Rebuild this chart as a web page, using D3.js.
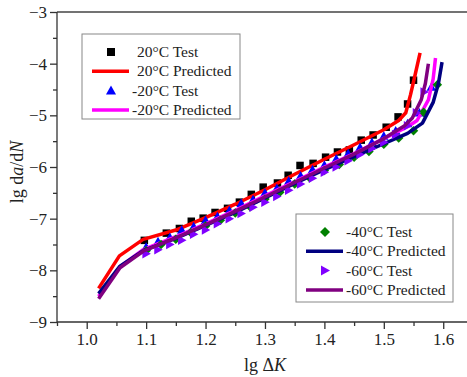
<!DOCTYPE html>
<html lang="en">
<head>
<meta charset="UTF-8">
<title>lg da/dN vs lg ΔK</title>
<script src="https://d3js.org/d3.v7.min.js"></script>
<style>
    body { margin: 0; padding: 0; background: #fff; }
    svg text { font-family: "Liberation Serif", "DejaVu Serif", serif; fill: #222; }
    .axis path, .axis line { stroke: #333; stroke-width: 1.3px; }
    .axis text { font-size: 17px; }
</style>
</head>
<body>
<svg id="chart"></svg>
<script>
// ---- data ----
const xTicks = [1.0, 1.1, 1.2, 1.3, 1.4, 1.5, 1.6];
const yTicks = [-9, -8, -7, -6, -5, -4, -3];

// 20°C
const test20x = [1.097, 1.134, 1.156, 1.176, 1.196, 1.216, 1.237, 1.257, 1.277, 1.297, 1.321, 1.339, 1.359, 1.381, 1.402, 1.422, 1.442, 1.462, 1.482, 1.504, 1.524, 1.540, 1.550];
const test20y = [-7.42, -7.28, -7.19, -7.05, -6.99, -6.88, -6.80, -6.68, -6.53, -6.39, -6.31, -6.16, -5.97, -5.93, -5.81, -5.71, -5.67, -5.48, -5.38, -5.23, -5.03, -4.78, -4.32];
const pred20x = [1.02, 1.055, 1.095, 1.15, 1.2, 1.25, 1.3, 1.35, 1.4, 1.45, 1.5, 1.525, 1.537, 1.545, 1.553, 1.561];
const pred20y = [-8.35, -7.72, -7.40, -7.22, -6.98, -6.72, -6.44, -6.14, -5.85, -5.57, -5.28, -5.10, -4.95, -4.60, -4.20, -3.79];

// -20°C
const testM20x = [1.10, 1.12, 1.14, 1.16, 1.18, 1.20, 1.22, 1.24, 1.26, 1.28, 1.30, 1.32, 1.34, 1.36, 1.38, 1.40, 1.42, 1.44, 1.46, 1.48, 1.50, 1.52, 1.54, 1.56, 1.58];
const testM20y = [-7.55, -7.44, -7.36, -7.22, -7.15, -7.03, -6.96, -6.84, -6.70, -6.63, -6.50, -6.41, -6.27, -6.17, -6.05, -5.96, -5.84, -5.74, -5.62, -5.52, -5.40, -5.30, -5.16, -4.95, -4.45];
const predM20x = [1.02, 1.056, 1.095, 1.15, 1.2, 1.25, 1.3, 1.35, 1.4, 1.45, 1.5, 1.54, 1.556, 1.575, 1.583, 1.587];
const predM20y = [-8.50, -7.93, -7.60, -7.35, -7.10, -6.84, -6.56, -6.28, -6.00, -5.74, -5.45, -5.22, -5.10, -4.70, -4.30, -3.89];

// -40°C
const testM40x = [1.10, 1.125, 1.15, 1.175, 1.2, 1.225, 1.25, 1.275, 1.3, 1.325, 1.35, 1.375, 1.4, 1.425, 1.45, 1.475, 1.5, 1.525, 1.55, 1.567, 1.59];
const testM40y = [-7.62, -7.50, -7.40, -7.27, -7.14, -7.03, -6.89, -6.77, -6.62, -6.49, -6.33, -6.21, -6.07, -5.95, -5.81, -5.70, -5.56, -5.44, -5.30, -4.94, -4.41];
const predM40x = [1.02, 1.056, 1.095, 1.15, 1.2, 1.25, 1.3, 1.35, 1.4, 1.45, 1.5, 1.54, 1.565, 1.583, 1.592, 1.598];
const predM40y = [-8.45, -7.92, -7.62, -7.38, -7.13, -6.88, -6.60, -6.32, -6.05, -5.80, -5.55, -5.35, -5.15, -4.75, -4.38, -3.97];

// -60°C
const testM60x = [1.10, 1.12, 1.14, 1.16, 1.18, 1.20, 1.22, 1.24, 1.26, 1.28, 1.30, 1.32, 1.34, 1.36, 1.38, 1.40, 1.42, 1.44, 1.46, 1.48, 1.50, 1.52, 1.54, 1.555, 1.568];
const testM60y = [-7.68, -7.60, -7.50, -7.42, -7.30, -7.22, -7.10, -7.00, -6.90, -6.78, -6.68, -6.57, -6.45, -6.33, -6.22, -6.10, -6.00, -5.88, -5.76, -5.64, -5.52, -5.37, -5.20, -4.95, -4.55];
const predM60x = [1.02, 1.056, 1.095, 1.15, 1.2, 1.25, 1.3, 1.35, 1.4, 1.45, 1.5, 1.535, 1.548, 1.563, 1.57, 1.575];
const predM60y = [-8.55, -7.95, -7.63, -7.37, -7.12, -6.86, -6.58, -6.30, -6.02, -5.75, -5.45, -5.20, -5.05, -4.70, -4.38, -4.00];

const zip = (xs, ys) => xs.map((x, i) => [x, ys[i]]);

// series in legend (and drawing) order
const series = [
    { label: "20°C Test",       type: "test", shape: "square",   color: "#000000", pts: zip(test20x, test20y) },
    { label: "20°C Predicted",  type: "line", color: "#ff0000", pts: zip(pred20x, pred20y) },
    { label: "-20°C Test",      type: "test", shape: "triUp",    color: "#0000ff", pts: zip(testM20x, testM20y) },
    { label: "-20°C Predicted", type: "line", color: "#ff00ff", pts: zip(predM20x, predM20y) },
    { label: "-40°C Test",      type: "test", shape: "diamond",  color: "#008000", pts: zip(testM40x, testM40y) },
    { label: "-40°C Predicted", type: "line", color: "#000080", pts: zip(predM40x, predM40y) },
    { label: "-60°C Test",      type: "test", shape: "triRight", color: "#8000ff", pts: zip(testM60x, testM60y) },
    { label: "-60°C Predicted", type: "line", color: "#800080", pts: zip(predM60x, predM60y) }
];

// ---- layout ----
const W = 467, H = 377;
const pLeft = 57, pRight = 467, pTop = 12, pBottom = 322;

const svg = d3.select("#chart").attr("width", W).attr("height", H);

const x = d3.scaleLinear().domain([0.95, 1.64]).range([pLeft, pRight]);
const y = d3.scaleLinear().domain([-9, -3]).range([pBottom, pTop]);

// marker shapes
function markerPath(shape, s) {
    const h = s / 2;
    if (shape === "square") return `M${-h},${-h}h${s}v${s}h${-s}Z`;
    if (shape === "triUp") return `M0,${-h - 1}L${h + 1},${h}L${-h - 1},${h}Z`;
    if (shape === "triRight") return `M${h + 1},0L${-h},${h + 1}L${-h},${-h - 1}Z`;
    if (shape === "diamond") return `M0,${-h - 1}L${h + 1},0L0,${h + 1}L${-h - 1},0Z`;
    return "";
}

// top frame line
svg.append("line")
    .attr("x1", pLeft).attr("x2", pRight)
    .attr("y1", pTop).attr("y2", pTop)
    .attr("stroke", "#444").attr("stroke-width", 1.3);

// x axis (minor + major)
svg.append("g")
    .attr("class", "axis")
    .attr("transform", `translate(0,${pBottom})`)
    .call(d3.axisBottom(x).tickValues(xTicks.map(v => v - 0.05)).tickSize(4).tickFormat(""))
    .call(g => g.select(".domain").remove());
svg.append("g")
    .attr("class", "axis")
    .attr("transform", `translate(0,${pBottom})`)
    .call(d3.axisBottom(x).tickValues(xTicks).tickSize(7).tickPadding(4).tickFormat(d3.format(".1f")))
    .call(g => g.select(".domain").attr("d", `M${pLeft},0H${pRight}`));

// y axis (minor + major)
svg.append("g")
    .attr("class", "axis")
    .attr("transform", `translate(${pLeft},0)`)
    .call(d3.axisLeft(y).tickValues(yTicks.slice(0, -1).map(v => v + 0.5)).tickSize(4).tickFormat(""))
    .call(g => g.select(".domain").remove());
svg.append("g")
    .attr("class", "axis")
    .attr("transform", `translate(${pLeft},0)`)
    .call(d3.axisLeft(y).tickValues(yTicks).tickSize(7).tickPadding(3).tickFormat(d3.format("d")))
    .call(g => g.select(".domain").attr("d", `M0,${pTop}V${pBottom}`));

// axis titles
const xt = svg.append("text")
    .attr("x", 265).attr("y", 371)
    .attr("text-anchor", "middle")
    .style("font-size", "18px");
xt.append("tspan").text("lg \u0394");
xt.append("tspan").style("font-style", "italic").text("K");

const yt = svg.append("text")
    .attr("transform", "translate(23,172) rotate(-90)")
    .attr("text-anchor", "middle")
    .style("font-size", "18px");
yt.append("tspan").text("lg d");
yt.append("tspan").style("font-style", "italic").text("a");
yt.append("tspan").text("/d");
yt.append("tspan").style("font-style", "italic").text("N");

// data
const line = d3.line().x(d => x(d[0])).y(d => y(d[1]));
const plot = svg.append("g");

series.forEach(s => {
    if (s.type === "line") {
        plot.append("path")
            .datum(s.pts)
            .attr("d", line)
            .attr("fill", "none")
            .attr("stroke", s.color)
            .attr("stroke-width", 3.5)
            .attr("stroke-linejoin", "round");
    } else {
        plot.selectAll(null)
            .data(s.pts)
            .join("path")
            .attr("transform", d => `translate(${x(d[0])},${y(d[1])})`)
            .attr("d", markerPath(s.shape, 7.5))
            .attr("fill", s.color);
    }
});

// legends
function drawLegend(items, bx, by, bw, bh) {
    const g = svg.append("g");
    g.append("rect")
        .attr("x", bx).attr("y", by).attr("width", bw).attr("height", bh)
        .attr("fill", "#fff").attr("stroke", "#888").attr("stroke-width", 1);
    items.forEach((s, i) => {
        const cy = by + 18 + i * 19.3;
        if (s.type === "line") {
            g.append("line")
                .attr("x1", bx + 10).attr("x2", bx + 47)
                .attr("y1", cy).attr("y2", cy)
                .attr("stroke", s.color).attr("stroke-width", 3.5);
        } else {
            g.append("path")
                .attr("transform", `translate(${bx + 29},${cy})`)
                .attr("d", markerPath(s.shape, 8))
                .attr("fill", s.color);
        }
        g.append("text")
            .attr("x", bx + 50 + (s.label.startsWith("-") ? 0 : 5))
            .attr("y", cy + 5)
            .style("font-size", "15.5px")
            .text(s.label);
    });
}
drawLegend(series.slice(0, 4), 82, 34, 158, 85);
drawLegend(series.slice(4), 296, 214, 157, 88);
</script>
</body>
</html>
